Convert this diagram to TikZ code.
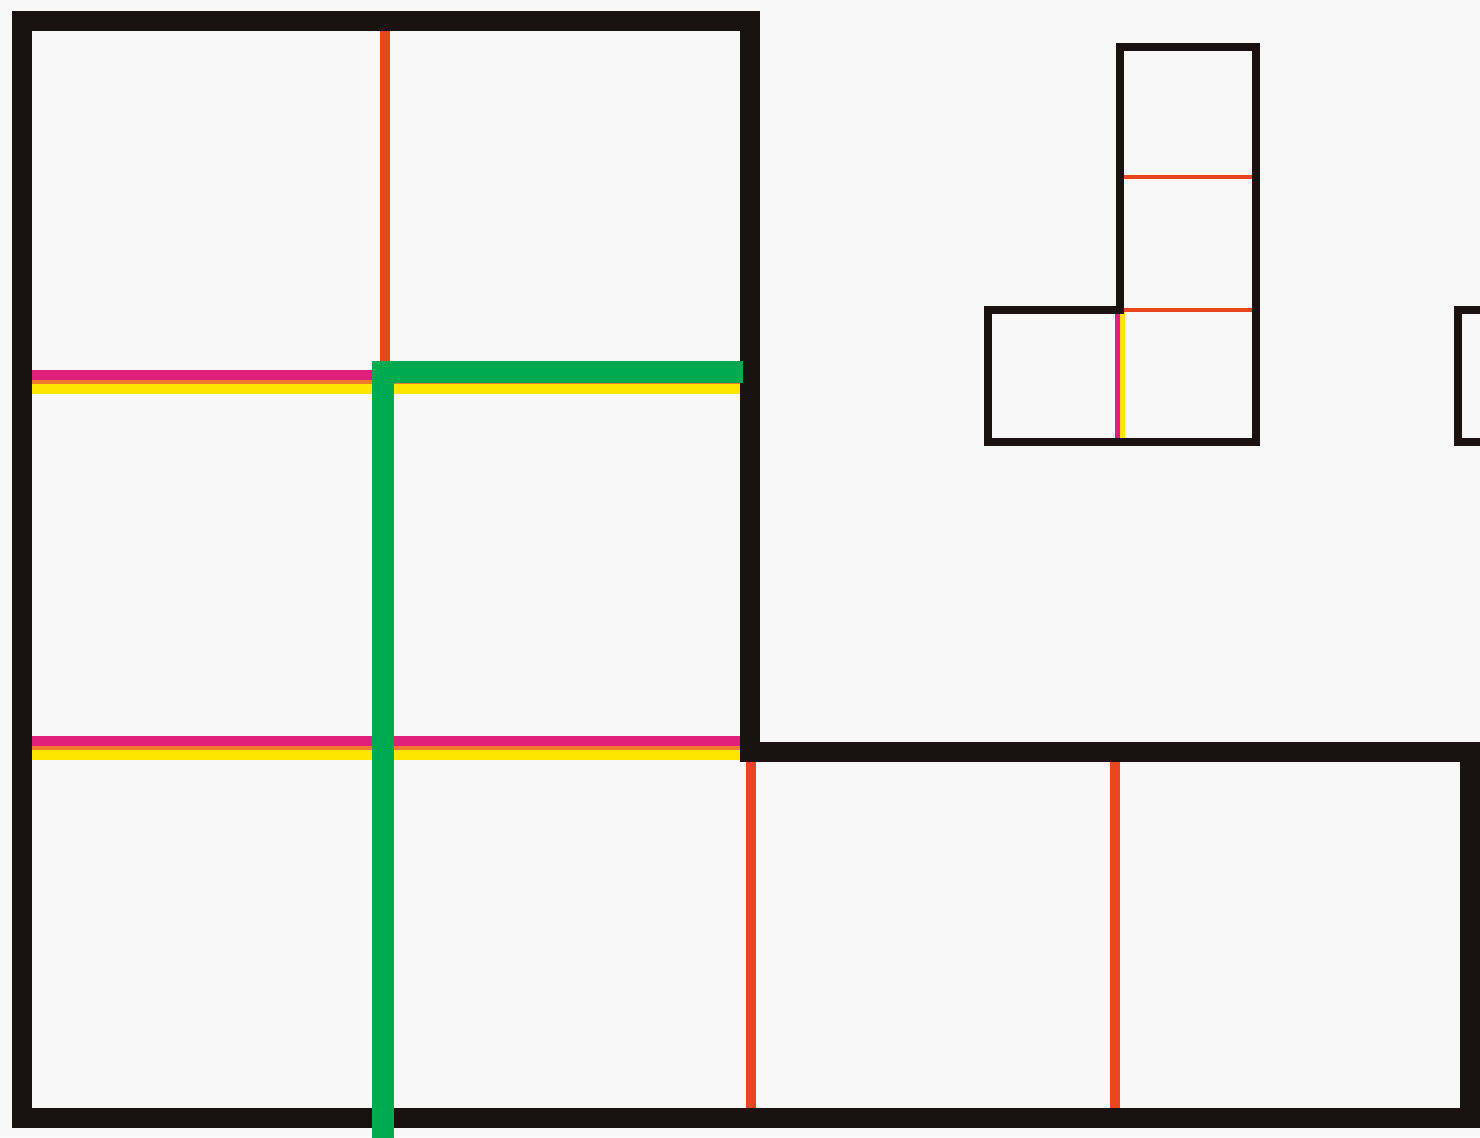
\documentclass[tikz,border=0pt]{standalone}
\definecolor{bgc}{HTML}{F8F8F8}
\definecolor{ink}{HTML}{1A1212}
\definecolor{ored}{HTML}{E8461E}
\definecolor{mag}{HTML}{E0207A}
\definecolor{yel}{HTML}{FFE600}
\definecolor{blend}{HTML}{F07A30}
\definecolor{grn}{HTML}{00AA4F}
\begin{document}
\begin{tikzpicture}[x=0.01cm,y=-0.01cm,
  thick outline/.style={draw=ink,line width=5.7pt,line join=miter},
  thin outline/.style={draw=ink,line width=2.2pt,line join=miter},
  redline/.style={draw=ored,line width=3pt},
  thinred/.style={draw=ored,line width=1.1pt},
  magline/.style={draw=mag,line width=2.6pt},
  yelline/.style={draw=yel,line width=3pt},
  blendline/.style={draw=blend,line width=1.2pt},
  greenline/.style={draw=grn,line width=6pt,line join=miter}]
\fill[bgc] (0,0) rectangle (1480,1137);
\useasboundingbox (0,0) rectangle (1480,1137);
\clip (0,0) rectangle (1480,1137);
% coordinates
\coordinate (TL) at (22,21);
\coordinate (TR) at (750,21);
\coordinate (SR) at (750,752);
\coordinate (RR) at (1470,752);
\coordinate (BR) at (1470,1118);
\coordinate (BL) at (22,1118);
% orange-red grid lines
\draw[redline] (385,30) -- (385,376);
\draw[redline] (751,760) -- (751,1110);
\draw[redline] (1115,760) -- (1115,1110);
% magenta / yellow lines
\draw[yelline] (32,389) -- (742,389);
\draw[magline] (32,375) -- (742,375);
\draw[blendline] (32,382) -- (742,382);
\draw[yelline] (32,755) -- (742,755);
\draw[magline] (32,741) -- (742,741);
\draw[blendline] (32,748) -- (742,748);
% big outline
\draw[thick outline] (TL) -- (TR) -- (SR) -- (RR) -- (BR) -- (BL) -- cycle;
% green L
\draw[greenline] (383,1140) -- (383,372) -- (743,372);
% small shape
\draw[thinred] (1122,177) -- (1254,177);
\draw[thinred] (1122,310) -- (1254,310);
\draw[draw=mag,line width=1.4pt] (1117.5,312) -- (1117.5,440);
\draw[draw=yel,line width=1.4pt] (1122.5,312) -- (1122.5,440);
\draw[thin outline] (1120,47) -- (1256,47) -- (1256,442) -- (988,442) -- (988,310) -- (1120,310) -- cycle;
% partial shape at right edge
\draw[thin outline] (1500,310) -- (1458,310) -- (1458,442) -- (1500,442);
\end{tikzpicture}
\end{document}
